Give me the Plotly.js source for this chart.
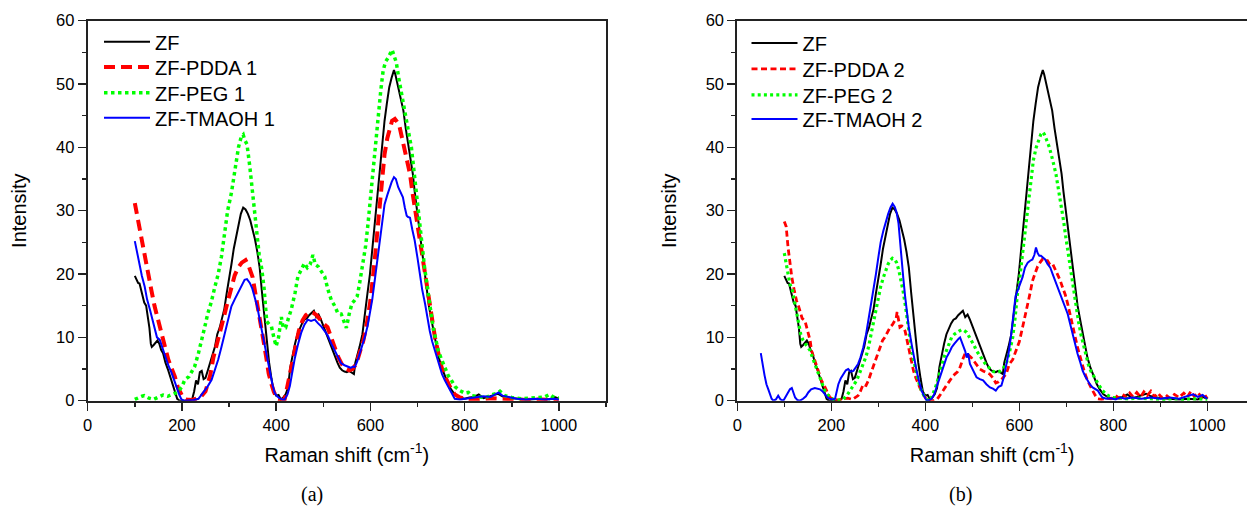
<!DOCTYPE html>
<html>
<head>
<meta charset="utf-8">
<script src="https://cdn.plot.ly/plotly-3.0.1.min.js"></script>
<style>
html,body{margin:0;padding:0;background:#fff;}
#chart{width:1247px;height:508px;}
</style>
</head>
<body>
<div id="chart"></div>
<script>
// ---- Data ----
const zfX = [100,104,107,110,113,117,120,124,128,131,134,136,140,144,148,152,156,160,165,170,175,180,185,190,195,205,215,222,226,230,234,238,242,246,250,255,260,265,270,275,280,285,290,295,300,305,310,315,320,325,330,335,340,345,350,355,360,365,370,375,380,385,390,395,400,405,410,415,420,425,430,435,440,445,450,455,460,465,470,475,480,485,490,495,500,505,510,515,520,525,530,535,540,545,550,555,560,565,568,572,577,583,588,593,599,604,609,615,620,625,630,635,640,645,650,653,656,659,664,670,675,680,685,690,694,698,703,708,713,719,724,730,735,740,745,751,758,765,772,779,790,800,810,820,830,840,850,860,870,880,890,900,920,940,960,980,990,1000];
const zfY = [19.7,19.2,18.6,18.5,17.5,16.5,15.5,15,13,11.5,9,8.5,8.8,9.2,9.5,9,8,7.5,6,5,3.8,2.5,1.5,0.3,0,0,0,0.3,1.5,3.2,2.6,4.5,4.7,3.4,3.6,4.8,6,7.5,8.5,10.5,11.5,13,14.5,17,19,21.5,24,26,28,29.5,30.5,30.2,29.5,28.5,27,25.5,23.5,21,17,13,9,6,3.5,1.4,0.8,0.9,0.2,0.5,1,2,5.3,7.5,9,10.5,11.5,12.2,12.8,13,13.5,13.8,14.2,13.2,13.6,12.8,11.8,11,10,9,8,7,6,5.2,4.8,4.6,4.5,4.7,4.5,4.2,6,7,8.5,10.5,14,16.5,20,24,28.4,32.5,36.3,40,44.2,47,49.5,51,52.2,51.5,50.5,49.5,47.5,45.8,43,40.5,38.5,35.8,33,30.5,27.5,24.2,21,17.9,15,12.6,10.5,8.4,6.8,5.3,3.8,2.6,1.7,1,0.5,0.3,0.5,0.6,1,0.4,0.6,0.8,1.1,0.7,0.5,0.4,0.3,0.2,0.3,0.2,0.6,0.3];

const pdda1X = [100,107,114,121,128,135,142,149,156,163,171,178,185,191,196,202,210,220,230,240,250,260,267,275,282,289,297,305,312,320,327,335,342,350,355,361,367,373,379,384,390,395,403,410,418,426,433,441,448,456,463,471,478,486,493,500,509,516,524,531,539,547,555,562,570,577,585,592,600,609,616,623,630,636,641,646,652,657,662,667,673,678,684,689,694,700,705,710,716,721,726,731,737,744,751,758,765,772,779,790,800,830,860,880,900,930,960,1000];
const pdda1Y = [31.2,28.3,25.4,22.8,20.2,17.5,14.9,12.8,10.7,8.6,6.5,5.1,3.8,2.2,1.3,0.5,0.2,0.1,0.3,0.6,1.5,4,6.9,9,11,13.2,15.6,18,19.8,21.1,21.8,22.2,21.2,19.5,17.5,14.8,12.2,9.5,6.8,4.3,2.6,1.4,0.2,0.1,0.2,3.2,6,9,11,12.7,13.5,14,13.9,13.5,12.8,12.2,11.6,10,8.5,7,5.8,5.1,4.8,5,5.8,7.5,9.5,12,15.8,22.1,28,33.7,38.9,41.5,43.2,44.2,44.5,44,43.2,41.5,39.5,37.5,35.8,33,30.5,27.9,25.3,22.6,20,17.3,14.7,12.3,10,7.6,5.3,3.9,2.6,1.7,1,0.5,0.3,0.2,0.4,0.3,0.2,0.1,0.2,0.1];

const peg1X = [100,105,110,115,120,125,130,140,150,155,160,170,180,190,200,206,215,227,235,241,248,255,262,270,277,284,290,297,305,310,315,320,326,330,333,338,344,351,358,364,369,374,380,385,390,395,400,405,411,415,420,426,432,440,446,452,460,466,472,478,483,489,496,503,510,517,524,531,538,544,549,555,561,566,572,577,584,590,595,600,606,611,616,622,627,632,638,642,646,650,655,660,666,671,677,682,687,693,698,703,708,715,723,728,733,739,744,751,758,765,772,780,790,800,808,815,830,845,860,870,875,885,900,920,940,955,970,980,990,1000];
const peg1Y = [0.2,0.4,0.6,0.7,0.8,0.6,0.4,0.2,0.6,0.8,0.9,0.7,1,1.3,2.2,3.3,3.8,5.4,7.5,9.6,11.5,13.8,15.5,18,20,22.8,26,30,32.8,35.5,38,40,41.7,42,41.2,40.5,37,31.7,26.5,23,21,18,12.5,12,11.7,10,8.6,10,13.2,11.5,11.5,13,14.4,17,19.6,20.5,21.7,21,21.5,23,21.5,21.2,20.5,19.6,17.5,15.9,15,13.8,13.7,12.5,11.5,13.7,15.4,15.8,16.5,18.5,21.5,24.5,28,32,36.3,41,45.3,49,52.1,53.5,54.2,55,55.4,54.5,53.4,51,48.4,46,44.2,42,40,36,32.6,29,25.3,21,16.8,14,11.6,9.6,7.9,6.5,5.3,4,3.2,2.2,1.6,1.2,1.3,0.8,0.6,0.5,1,1.2,1.5,0.8,0.5,0.3,0.4,0.5,0.6,1,0.5,0.4];

const tmaoh1X = [100,105,110,115,121,126,132,137,142,147,153,158,164,171,178,183,188,194,199,205,215,225,235,242,248,255,263,270,277,284,291,298,305,312,319,326,333,338,344,349,354,360,365,370,376,381,386,392,397,402,407,413,418,424,429,434,439,446,453,460,467,474,482,489,496,503,510,517,524,531,538,545,552,558,563,567,572,577,583,588,594,599,604,609,615,620,625,630,636,641,645,650,654,659,664,669,673,677,680,684,689,694,700,705,710,716,721,726,731,737,742,747,752,758,764,769,774,779,790,800,820,840,855,865,872,880,895,910,930,950,970,990,1000];
const tmaoh1Y = [25.2,23.3,21.2,19.7,18,16,14.4,12.8,11.2,10,9.6,8.5,7,5.6,4.4,3.5,2.3,1,0.2,0,0,0.1,0.3,1,1.7,2.3,3.3,4.8,6.5,8.5,10.7,13,14.9,16,17,18,19.1,19.2,18.6,17.8,16.5,14.8,12.8,10.8,8.6,6.5,4.4,2.6,1.2,0.7,0.4,0.2,0.2,1,2.3,4.5,6.5,8.8,10.7,12,12.8,12.6,12.8,12.2,11.7,11,10.2,9,8,6.8,5.9,5.6,5.4,5.2,5.4,5.3,6.2,7.4,8.7,10,11.8,13.7,16,18.9,22.5,25.8,28.5,31,32.5,33.7,34.5,35.3,35,33.7,32.8,32.1,30.5,29.2,29,28.9,27,25.3,22.5,20,17.5,15.3,13,11,9.4,7.9,6.5,5.3,4.2,3.2,2.4,1.6,0.9,0.3,0.2,0.3,0.5,0.7,0.6,1,1.3,0.8,0.5,0.3,0.2,0.3,0.2,0.3,0.2];

const pdda2X = [100,104,108,112,116,121,126,130,133,138,144,148,151,155,158,164,169,174,179,185,190,197,205,215,225,235,245,252,257,262,268,274,279,284,289,296,303,309,314,320,325,330,335,338,340,343,346,350,353,357,360,364,367,371,375,380,385,390,396,403,410,418,425,431,438,445,452,458,463,468,474,478,481,485,488,492,498,503,509,516,523,530,537,544,550,556,564,572,579,586,593,600,607,612,618,623,628,634,639,644,650,655,660,665,671,676,681,687,692,698,703,708,713,719,724,730,735,740,745,750,756,762,767,775,785,795,805,812,820,828,835,842,850,858,865,872,880,888,895,903,912,920,930,940,950,958,965,972,980,988,995,1000];
const pdda2Y = [28.3,27.5,24.2,21.5,19.5,17.5,15.8,15,14.2,13,12.6,11.5,10.5,9.5,7.9,6.5,5.3,4.2,3.2,2.4,1.6,0.5,0.2,0.1,0.3,0.4,0.2,0.5,0.8,1.5,2.6,2.4,3.2,4.3,5.3,6.8,8.4,9.5,10,10.8,11.6,12,12.6,13,14,12.5,11.6,11.8,11.6,11,10,8.5,7.4,6,4.7,3.6,2.6,1.8,1,0.1,0,0,0.2,0.8,1.6,2.4,3.2,3.8,4.2,4.5,5.3,6.3,6.8,7.5,7.4,7.2,6.8,6.3,5.8,5,4.7,4.5,4.2,3.6,2.8,3,3.5,4.2,5.8,6.5,7.9,9.3,11.6,13.5,15.3,17,18.9,20.2,21.2,21.8,22.4,22.1,22.1,21.5,21.6,20.8,20,19,17.9,16.7,15.3,13.6,11.6,10,8.4,6.8,5.3,4.2,3.2,2.4,1.6,0.8,0.3,0.2,0.4,0.3,0.8,0.4,1,0.5,1.2,0.6,1.3,0.6,1.4,0.8,1.5,0.6,1.2,0.5,0.9,0.4,1,0.5,1.2,0.6,1.5,0.7,1.3,0.5,0.9,0.3];

const peg2X = [100,105,112,117,123,130,135,140,148,155,160,165,171,176,181,186,192,197,205,215,225,233,240,247,254,261,268,274,279,284,289,295,300,305,311,316,321,326,330,335,339,344,349,353,357,361,364,368,371,375,378,384,389,394,399,405,410,417,424,430,435,440,445,451,456,462,467,472,477,482,488,493,499,504,509,516,523,530,538,545,552,558,565,572,579,586,591,596,602,607,612,618,622,625,630,636,641,646,650,653,658,664,671,678,683,689,694,699,705,710,715,721,726,731,737,742,747,752,758,763,770,777,785,792,799,810,830,850,870,890,910,930,950,970,990,1000];
const peg2Y = [23.3,21,18.4,17.5,15.3,12.1,10.5,9.5,8.7,7.9,6.8,5.8,4.8,3.7,2.6,1.6,1,0.5,0.2,0.1,0.2,0.8,1.6,2.4,3.2,4.5,5.8,7,8.4,10.2,12.1,14.2,16.3,18,19.5,20.6,21.6,22.2,22.5,22.3,21.8,20.5,18.9,17.2,15.3,13,11,9.3,7.9,6.5,5.3,3.5,2.1,1.2,0.5,0.1,0,1.2,2.6,4.2,5.8,6.9,7.9,9,10,10.5,10.8,11,11.2,11.1,10.8,10.2,9.5,8.7,7.9,7,6.3,5.6,5,4.6,4.5,4.6,5,5.8,7.6,10,13,16.8,20,23.2,26.8,30.5,33.5,35.8,38,40,41.2,42.1,42.4,42.1,41.2,40,38,35.8,33.5,31,28.5,25.8,22.8,20,17.3,14.7,12.5,10.5,8.6,6.8,5.7,4.7,3.9,3.2,2.4,1.6,1,0.7,0.5,0.4,0.3,0.4,0.3,0.3,0.2,0.3,0.2,0.3,0.2,0.2];

const tmaoh2X = [50,53,55,58,62,66,69.5,73,77,82,87,92,98,103,108.5,112,116,119,123,128,133,140,146,151,157,165,171,176,181,186.5,192,197,203,208,212,215,220,225.5,231,236,241,247,252,257,262,268,274,279,284,289,295,300,305,310.6,316,321,326,330.5,335,339,343,346,350,353,357,360,365,371,376,381.6,387,392,397,403,408,413.5,419,424,430,435,440,445,451,456,462,467,471,474,478,481,485,488,491,495,502,509,516,523,530,537.6,544,550,556,562,567,572.6,577,582,587,592,597,602,607,612,618,623,628,632,635.5,639,642.5,646,650,655,660,666,671,676,681.5,687,692,698,703,708,713.5,719,724,730,735,740,745,750,756,762,767,772,777,785,795,805,815,825,840,860,880,900,920,940,960,970,980,990,1000];
const tmaoh2Y = [7.5,6.5,5.3,4,2.6,1.8,1,0.3,0,0.2,0.8,0.2,0,0.6,1.3,1.8,2,1.4,0.5,0.1,0,0.3,0.7,1.3,1.8,2,1.9,1.8,1.5,1,0.5,0.3,0.2,0.3,1.5,2.6,3.5,4.2,4.8,5,4.6,4.7,5.2,5.8,6.8,8.4,10.5,12.6,15,17.4,20,22.6,25,26.8,28.3,29.5,30.5,31.1,30.6,29.7,28,25.8,22.5,19.5,16.5,14.2,11.5,8.9,6.7,4.7,3,1.6,0.8,0,0.1,0.3,1,2.1,3.4,4.7,5.8,6.8,7.6,8.4,9,9.5,9.8,10,9.2,8.4,7.8,6.8,7.5,5.8,4.7,3.7,3.4,3.2,2.6,2.1,1.9,1.6,2.2,2.4,3.7,5.8,7.4,10,13.5,16.5,17.5,18.5,19.5,21,21.8,22.1,22.3,23,24.2,23.3,22.9,22.9,22.6,22.3,21.6,21,20,19,17.9,16.9,15.8,14.8,13.7,12.2,10.5,9,7.4,6,4.7,3.9,3.2,2.6,2.1,1.8,1.6,1,0.5,0.3,0.4,0.2,0.5,0.3,0.5,0.3,0.5,0.3,0.5,0.3,0.8,1,0.6,0.9,0.3];

const names1 = ['ZF','ZF-PDDA 1','ZF-PEG 1','ZF-TMAOH 1'];
const names2 = ['ZF','ZF-PDDA 2','ZF-PEG 2','ZF-TMAOH 2'];
const xTickVals = [0,200,400,600,800,1000];
const yTickVals = [0,10,20,30,40,50,60];

// ---- Styles ----
const FONT = 'Arial, "Liberation Sans", sans-serif';
const SERIF = '"Times New Roman", "Liberation Serif", serif';
const black = {color:'#000000', width:2};
const blue = {color:'#0000ff', width:2};
const W = 1247, H = 508;

function tr(x, y, name, line, xa, ya, leg){
  return {x:x, y:y, name:name, type:'scatter', mode:'lines', line:line,
          xaxis:xa, yaxis:ya, legend:leg};
}

const traces = [
  tr(zfX, zfY, names1[0], black, 'x', 'y', 'legend'),
  tr(pdda1X, pdda1Y, names1[1], {color:'#ff0000', width:4, dash:'11px,6px'}, 'x', 'y', 'legend2'),
  tr(peg1X, peg1Y, names1[2], {color:'#00ff00', width:3.5, dash:'3.5px,3.5px'}, 'x', 'y', 'legend3'),
  tr(tmaoh1X, tmaoh1Y, names1[3], blue, 'x', 'y', 'legend4'),
  tr(zfX, zfY, names2[0], black, 'x2', 'y2', 'legend5'),
  tr(pdda2X, pdda2Y, names2[1], {color:'#ff0000', width:2.8, dash:'6px,3.5px'}, 'x2', 'y2', 'legend6'),
  tr(peg2X, peg2Y, names2[2], {color:'#00ff00', width:3.2, dash:'3px,3.2px'}, 'x2', 'y2', 'legend7'),
  tr(tmaoh2X, tmaoh2Y, names2[3], blue, 'x2', 'y2', 'legend8')
];

const yDom = [(H-400.7)/H, (H-20.7)/H];

function xax(domain, range, anchor){
  return {domain:domain, range:range, anchor:anchor, showline:true, linecolor:'#222', linewidth:2,
    mirror:true, ticks:'outside', ticklen:8, tickwidth:1.5, tickcolor:'#222',
    tickvals:xTickVals, showgrid:false, zeroline:false,
    minor:{dtick:100, tick0:0, ticks:'outside', ticklen:4, tickwidth:1.5, tickcolor:'#222', showgrid:false},
    tickfont:{family:FONT, size:16.5, color:'#000'},
    title:{text:'Raman shift (cm<sup>-1</sup>)', font:{family:FONT, size:20, color:'#000'}, standoff:15}};
}
function yax(anchor, mirror){
  return {domain:yDom, range:[0,60], anchor:anchor, showline:true, linecolor:'#222', linewidth:2,
    mirror:mirror, ticks:'outside', ticklen:8, tickwidth:1.5, tickcolor:'#222',
    tickvals:yTickVals, showgrid:false, zeroline:false,
    minor:{dtick:5, tick0:0, ticks:'outside', ticklen:4, tickwidth:1.5, tickcolor:'#222', showgrid:false},
    tickfont:{family:FONT, size:16.5, color:'#000'},
    title:{text:'Intensity', font:{family:FONT, size:20, color:'#000'}, standoff:24}};
}
function leg(xLeft, topPx){
  return {x:xLeft/W, y:(H-topPx)/H, xanchor:'left', yanchor:'top', bgcolor:'rgba(0,0,0,0)',
          borderwidth:0, itemwidth:46, font:{family:FONT, size:20, color:'#000'}};
}

const layout = {
  width:W, height:H,
  margin:{l:0, r:0, t:0, b:0},
  paper_bgcolor:'#ffffff', plot_bgcolor:'#ffffff',
  font:{family:FONT, color:'#000'},
  xaxis: xax([87.7/W, 606/W], [0,1100], 'y'),
  yaxis: yax('x', true),
  xaxis2: xax([737.3/W, 1], [0,1084.5], 'y2'),
  yaxis2: yax('x2', false),
  legend: leg(99, 22.3),
  legend2: leg(99, 47.6),
  legend3: leg(99, 73.2),
  legend4: leg(99, 98.2),
  legend5: leg(746.5, 23.6),
  legend6: leg(746.5, 49.3),
  legend7: leg(746.5, 75.3),
  legend8: leg(746.5, 99.6),
  showlegend:true,
  annotations:[
    {text:'(a)', xref:'paper', yref:'paper', x:312/W, y:(H-494)/H, xanchor:'center', yanchor:'middle',
     showarrow:false, font:{family:SERIF, size:20, color:'#000'}},
    {text:'(b)', xref:'paper', yref:'paper', x:960/W, y:(H-494)/H, xanchor:'center', yanchor:'middle',
     showarrow:false, font:{family:SERIF, size:20, color:'#000'}}
  ]
};

Plotly.newPlot('chart', traces, layout, {displayModeBar:false, staticPlot:true});
</script>
</body>
</html>
